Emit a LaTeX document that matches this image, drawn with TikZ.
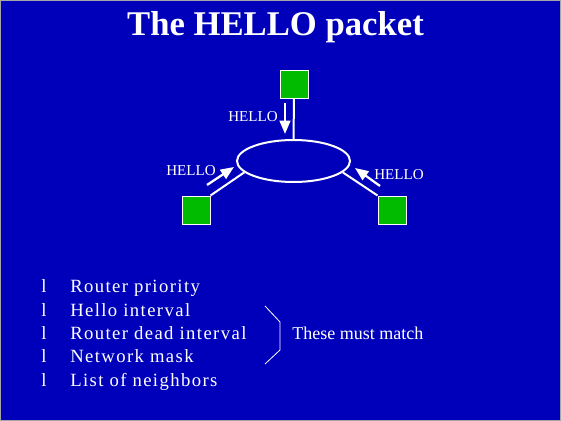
\documentclass[tikz,border=0pt]{standalone}
\usepackage{fontspec}
\setmainfont{Liberation Serif}
\usepackage{xcolor}
\usepackage{tikz}
\usetikzlibrary{shapes.geometric}
\usetikzlibrary{arrows.meta}
\definecolor{slideblue}{RGB}{0,0,187}
\definecolor{routergreen}{RGB}{0,187,0}
\def\itemfont{\fontsize{14}{17}\selectfont\addfontfeature{LetterSpace=7.5}}

\begin{document}
\begin{tikzpicture}[x=0.75pt,y=-0.75pt,
	router/.style={draw=white,fill=routergreen,minimum size=21pt,inner sep=0pt,line width=0.75pt},
	wire/.style={white,line width=1.5pt},
	hello/.style={white,anchor=base west,inner sep=0pt,font=\fontsize{11.3}{13}\selectfont},
	helloarrow/.style={white,line width=1.7pt,-{Triangle[length=10pt,width=8pt]}},
	bulletitem/.style={white,anchor=base west,inner sep=0pt,font=\itemfont}]
					\fill[slideblue] (0,0) rectangle (561,421);
					\draw[gray!70,line width=0.75pt] (0.5,0.5) rectangle (560.5,420.5);
					% title
					\node[white,anchor=base,inner sep=0pt,font=\fontsize{26}{30}\selectfont\bfseries] (title) at (275.5,36) {The HELLO packet};
					% network and routers
					\node[ellipse,draw=white,line width=1.5pt,minimum width=84.75pt,minimum height=31.5pt,inner sep=0pt] (net) at (293.5,161) {};
					\node[router] (rtop) at (294,84) {};
					\node[router] (rleft) at (196,210) {};
					\node[router] (rright) at (392,210) {};
					\draw[wire] (rtop.south) -- (net.north);
					\draw[wire] (rleft.north east) -- (net.193);
					\draw[wire] (rright.north west) -- (net.347);
					% hello messages
					\coordinate (htopa) at (285,103);
					\coordinate (htopb) at (285,134);
					\coordinate (hlefta) at (207,185);
					\coordinate (hleftb) at (234,167);
					\coordinate (hrighta) at (380,186);
					\coordinate (hrightb) at (355,168);
					\draw[helloarrow] (htopa) -- (htopb);
					\draw[helloarrow] (hlefta) -- (hleftb);
					\draw[helloarrow] (hrighta) -- (hrightb);
					\node[hello] (htop) at (228,121.7) {HELLO};
					\node[hello] (hleft) at (166,175) {HELLO};
					\node[hello] (hright) at (374,179) {HELLO};
					% parameters
					\node[bulletitem] (b1) at (41,292.7) {l};
					\node[bulletitem] (b2) at (41,316) {l};
					\node[bulletitem] (b3) at (41,339.3) {l};
					\node[bulletitem] (b4) at (41,362.6) {l};
					\node[bulletitem] (b5) at (41,386) {l};
					\node[bulletitem] (p1) at (70,292.7) {Router priority};
					\node[bulletitem] (p2) at (70,316) {Hello interval};
					\node[bulletitem] (p3) at (70,339.3) {Router dead interval};
					\node[bulletitem] (p4) at (70,362.6) {Network mask};
					\node[bulletitem] (p5) at (70,386) {List of neighbors};
					\draw[white,line width=0.6pt] (265,306)--(280,322)--(280,350)--(265,364);
					\node[white,anchor=base west,inner sep=0pt,font=\fontsize{13.5}{16}\selectfont] (match) at (292,339.3) {These must match};
				\end{tikzpicture}
\end{document}
